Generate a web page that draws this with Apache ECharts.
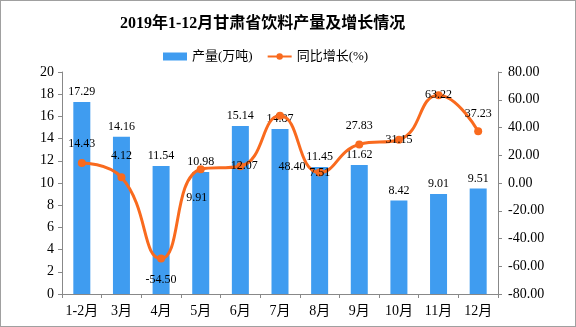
<!DOCTYPE html>
<html><head><meta charset="utf-8">
<script src="https://cdn.jsdelivr.net/npm/echarts@6/dist/echarts.min.js"></script>
<style>html,body{margin:0;padding:0;background:#fff}#c{width:576px;height:327px;box-sizing:border-box;border:1px solid #a0a0a0}</style>
</head><body><div id="c"></div>
<script>
var categories = ['1-2月','3月','4月','5月','6月','7月','8月','9月','10月','11月','12月'];
var output = [17.29,14.16,11.54,10.98,15.14,14.87,11.45,11.62,8.42,9.01,9.51];
var growth = [14.43,4.12,-54.50,9.91,12.07,48.40,7.51,27.83,31.15,63.22,37.23];
var leftTicks = {min:0,max:20,interval:2};
var rightTicks = {min:-80,max:80,interval:20};

var FONT = '"Liberation Serif","Noto Sans CJK SC",serif';
// label placement for the line series (style only)
var linePos = [
  {position:'top', offset:[0,-4]},
  {position:'top', offset:[0,-6]},
  {position:'bottom', offset:[0,6]},
  {position:'bottom', offset:[-4,14]},
  {position:'inside', offset:[4,0]},
  {position:'bottom', offset:[12,36]},
  {position:'inside', offset:[0,0]},
  {position:'top', offset:[0,-4]},
  {position:'inside', offset:[0,0]},
  {position:'inside', offset:[0,0]},
  {position:'top', offset:[0,-2]}
];
var lineData = growth.map(function(v,i){
  return {value:v, label:{position:linePos[i].position, offset:linePos[i].offset}};
});

var chart = echarts.init(document.getElementById('c'));
chart.setOption({
  animation:false,
  textStyle:{fontFamily:FONT},
  title:{text:'2019年1-12月甘肃省饮料产量及增长情况', left:114, top:10,
    textStyle:{fontSize:16, fontWeight:'bold', color:'#000', fontFamily:'"Liberation Serif","Noto Sans CJK SC",serif'}},
  legend:{top:44, left:157, itemGap:14, itemWidth:24, itemHeight:8,
    textStyle:{fontSize:13, color:'#000', fontFamily:FONT},
    data:[{name:'产量(万吨)', icon:'rect'}, {name:'同比增长(%)'}]},
  grid:{left:61, right:77, top:71, bottom:32},
  xAxis:{type:'category', data:categories,
    axisLine:{lineStyle:{color:'#888'}},
    axisTick:{show:true, length:4, lineStyle:{color:'#888'}},
    axisLabel:{color:'#000', fontSize:14, margin:10, fontFamily:FONT, interval:0}},
  yAxis:[
    {type:'value', min:leftTicks.min, max:leftTicks.max, interval:leftTicks.interval,
      axisLine:{show:true, lineStyle:{color:'#888'}},
      axisTick:{show:true, length:4, lineStyle:{color:'#888'}},
      splitLine:{show:false},
      axisLabel:{color:'#000', fontSize:14, margin:8, fontFamily:FONT}},
    {type:'value', min:rightTicks.min, max:rightTicks.max, interval:rightTicks.interval,
      position:'right',
      axisLine:{show:true, lineStyle:{color:'#888'}},
      axisTick:{show:true, length:4, lineStyle:{color:'#888'}},
      splitLine:{show:false},
      axisLabel:{color:'#000', fontSize:14, margin:10, fontFamily:FONT,
        formatter:function(v){return v.toFixed(2);}}}
  ],
  series:[
    {name:'产量(万吨)', type:'bar', data:output, barWidth:17, yAxisIndex:0,
      itemStyle:{color:'#3f9cf0'},
      label:{show:true, position:'top', color:'#000', fontSize:12, fontFamily:FONT, distance:4,
        formatter:function(p){return p.value.toFixed(2);}}},
    {name:'同比增长(%)', type:'line', data:lineData, yAxisIndex:1, smooth:true,
      symbol:'circle', symbolSize:8,
      lineStyle:{color:'#f96a1e', width:3}, itemStyle:{color:'#f96a1e'},
      label:{show:true, color:'#000', fontSize:12, fontFamily:FONT,
        formatter:function(p){return p.value.toFixed(2);}}}
  ]
});
</script></body></html>
